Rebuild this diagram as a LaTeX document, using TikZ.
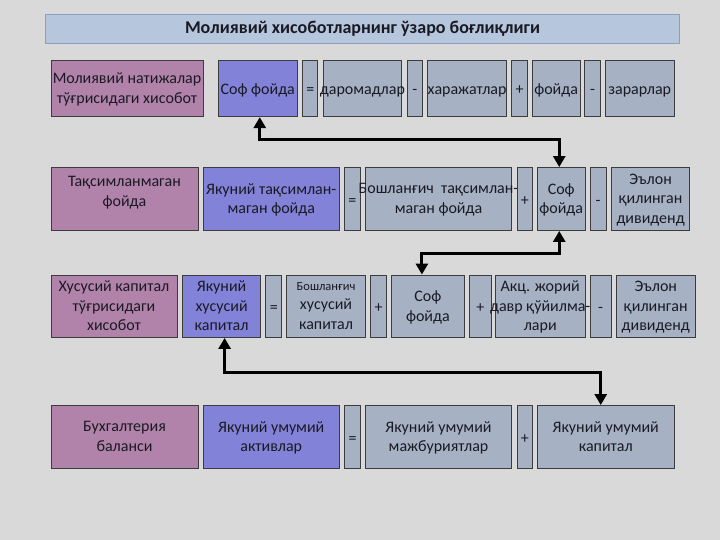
\documentclass[tikz,border=0pt]{standalone}
\usepackage{fontspec}
\setmainfont{Carlito}
\usetikzlibrary{arrows.meta}
\definecolor{bg}{HTML}{D9D9D9}
\definecolor{pinkc}{HTML}{B283AA}
\definecolor{bluec}{HTML}{8282D8}
\definecolor{grayc}{HTML}{A6B2C4}
\definecolor{titlec}{HTML}{B6C7DD}
\definecolor{edgec}{HTML}{3C3C3C}
\definecolor{txtc}{HTML}{1A1A24}
\tikzset{
  boxbase/.style={draw=edgec, line width=0.9pt, inner sep=0pt},
  pinkbox/.style={boxbase, fill=pinkc},
  bluebox/.style={boxbase, fill=bluec},
  graybox/.style={boxbase, fill=grayc},
  txt/.style={text=txtc, align=center, inner sep=0pt, yshift=-2.5pt, font=\fontsize{16}{19.6}\selectfont,
              execute at begin node=\strut, execute at end node=\strut},
  conn/.style={line width=3pt, black, {Triangle[width=12pt,length=11pt]}-{Triangle[width=12pt,length=11pt]}},
}
\newcommand\Bx[7]{%
  \node[#1, minimum width={#4-#3}, minimum height={#6-#5}] (#2) at ({(#3+#4)/2},{(#5+#6)/2}) {};
  \node[txt] at (#2) {#7};}
\begin{document}
\begin{tikzpicture}[x=1pt,y=-1pt]
\fill[bg] (0,0) rectangle (720,540);
\useasboundingbox (0,0) rectangle (720,540);
% title
\node[draw={rgb,255:red,140;green,160;blue,190}, line width=1.2pt, fill=titlec, minimum width=633.6, minimum height=29, inner sep=0pt,
      font=\bfseries\fontsize{18}{21}\selectfont, text=txtc] (title) at (362.5,28.8) {Молиявий хисоботларнинг ўзаро боғлиқлиги};
% row 1
\Bx{pinkbox}{r1a}{51}{203}{60}{116.7}{Молиявий натижалар\\ тўғрисидаги хисобот}
\Bx{bluebox}{r1b}{218}{297.5}{60}{116.7}{Соф фойда}
\Bx{graybox}{r1c}{302.7}{317.8}{60}{116.7}{=}
\Bx{graybox}{r1d}{323.5}{401.4}{60}{116.7}{даромадлар}
\Bx{graybox}{r1e}{407}{422.7}{60}{116.7}{-}
\Bx{graybox}{r1f}{427.4}{506.7}{60}{116.7}{харажатлар}
\Bx{graybox}{r1g}{511.5}{527.5}{60}{116.7}{+}
\Bx{graybox}{r1h}{532.3}{580}{60}{116.7}{фойда}
\Bx{graybox}{r1i}{584.7}{600.5}{60}{116.7}{-}
\Bx{graybox}{r1j}{605.5}{674}{60}{116.7}{зарарлар}
% row 2
\node[pinkbox, minimum width=147, minimum height=63] (r2a) at (124.5,199) {};
\node[txt] at ([yshift=7pt]r2a.center) {Тақсимланмаган\\фойда};
\Bx{bluebox}{r2b}{203}{339.5}{167.5}{230.5}{Якуний тақсимлан-\\маган фойда}
\Bx{graybox}{r2c}{344.5}{360.3}{167.5}{230.5}{=}
\Bx{graybox}{r2d}{365.5}{511.5}{167.5}{230.5}{Бошланғич\ \ тақсимлан-\\маган фойда}
\Bx{graybox}{r2e}{517}{532.7}{167.5}{230.5}{+}
\Bx{graybox}{r2f}{537.5}{585}{167.5}{230.5}{Соф\\фойда}
\Bx{graybox}{r2g}{590}{606}{167.5}{230.5}{-}
\Bx{graybox}{r2h}{611.5}{689.7}{167.5}{230.5}{Эълон\\қилинган\\дивиденд}
% row 3
\Bx{pinkbox}{r3a}{51}{177}{275}{337.5}{Хусусий капитал\\тўғрисидаги\\хисобот}
\Bx{bluebox}{r3b}{182.6}{260.6}{275}{337.5}{Якуний\\хусусий\\капитал}
\Bx{graybox}{r3c}{265.8}{281.9}{275}{337.5}{=}
\Bx{graybox}{r3d}{286.6}{365.5}{275}{337.5}{{\fontsize{12.5}{19.6}\selectfont Бошланғич}\\хусусий\\капитал}
\Bx{graybox}{r3e}{370.7}{386.3}{275}{337.5}{+}
\Bx{graybox}{r3f}{391.5}{464.3}{275}{337.5}{Соф\\фойда}
\Bx{graybox}{r3g}{469.5}{491}{275}{337.5}{+}
\Bx{graybox}{r3h}{495.5}{585}{275}{337.5}{Акц. жорий\\давр қўйилма-\\лари}
\Bx{graybox}{r3i}{590}{611}{275}{337.5}{-}
\Bx{graybox}{r3j}{616.5}{695}{275}{337.5}{Эълон\\қилинган\\дивиденд}
% row 4
\Bx{pinkbox}{r4a}{51}{198}{405.5}{468.5}{Бухгалтерия\\баланси}
\Bx{bluebox}{r4b}{203}{339.5}{405.5}{468.5}{Якуний умумий\\активлар}
\Bx{graybox}{r4c}{344.7}{360.3}{405.5}{468.5}{=}
\Bx{graybox}{r4d}{365.5}{511.5}{405.5}{468.5}{Якуний умумий\\мажбуриятлар}
\Bx{graybox}{r4e}{517}{532.7}{405.5}{468.5}{+}
\Bx{graybox}{r4f}{537.5}{674}{405.5}{468.5}{Якуний умумий\\капитал}
% connectors
\draw[conn] ([xshift=2pt]r1b.south) -- ++(0,22.8) -| ([xshift=-2pt]r2f.north);
\draw[conn] ([xshift=-2pt]r2f.south) -- ++(0,22.8) -| ([xshift=-6pt]r3f.north);
\draw[conn] ([xshift=3pt]r3b.south) -- ++(0,34.8) -| ([xshift=-5pt]r4f.north);
\end{tikzpicture}
\end{document}
